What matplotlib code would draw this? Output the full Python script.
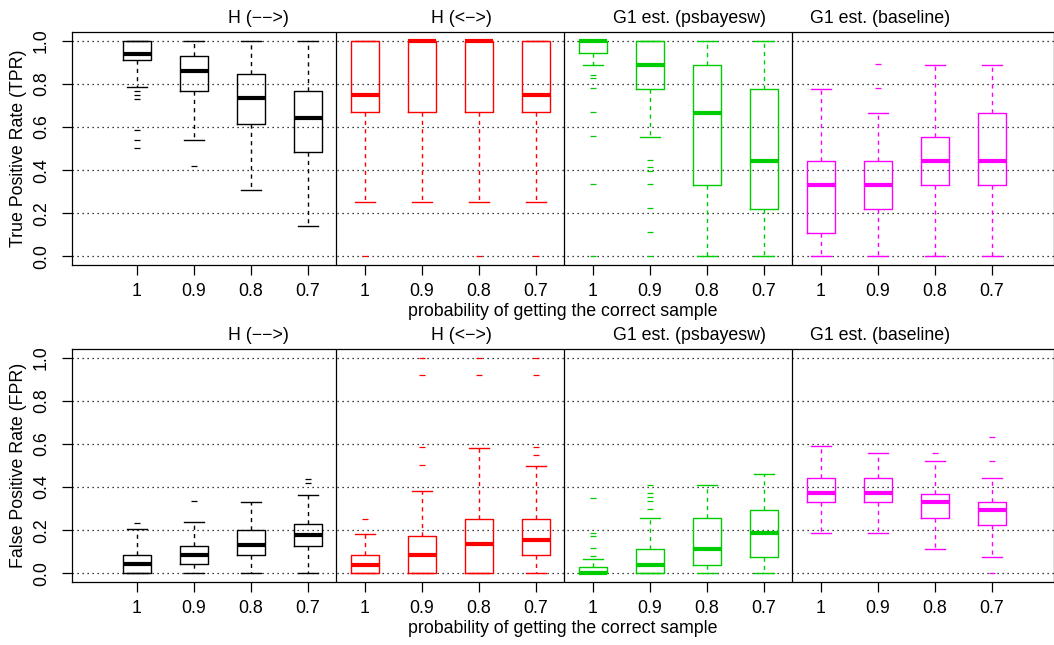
import matplotlib
matplotlib.use("Agg")
import matplotlib.pyplot as plt

plt.rcParams['font.family'] = ['Liberation Sans', 'DejaVu Sans']

methods = ["H (\u2212\u2212>)", "H (<\u2212>)", "G1 est. (psbayesw)", "G1 est. (baseline)"]
colors = ["black", "#FF0000", "#00CD00", "#FF00FF"]
probs = ["1", "0.9", "0.8", "0.7"]

FS = 12.8

# true positive rate, one entry per box (4 methods x 4 probabilities)
tpr_lo = [0.786, 0.539, 0.306, 0.142,
          0.251, 0.251, 0.251, 0.251,
          0.890, 0.556, 0.0, 0.0,
          0.0, 0.0, 0.0, 0.0]
tpr_q1 = [0.909, 0.769, 0.616, 0.483,
          0.669, 0.669, 0.669, 0.669,
          0.944, 0.779, 0.333, 0.221,
          0.111, 0.221, 0.333, 0.333]
tpr_med = [0.937, 0.862, 0.734, 0.644,
           0.751, 1.0, 1.0, 0.751,
           1.0, 0.890, 0.666, 0.444,
           0.333, 0.333, 0.444, 0.444]
tpr_q3 = [1.0, 0.929, 0.848, 0.769,
          1.0, 1.0, 1.0, 1.0,
          1.0, 1.0, 0.890, 0.779,
          0.444, 0.444, 0.556, 0.667]
tpr_hi = [1.0, 1.0, 1.0, 1.0,
          1.0, 1.0, 1.0, 1.0,
          1.0, 1.0, 1.0, 1.0,
          0.779, 0.667, 0.890, 0.890]
tpr_out = [[0.766, 0.751, 0.732, 0.588, 0.542, 0.505], [0.421], [], [],
           [0.0], [], [0.0], [0.0],
           [0.841, 0.830, 0.780, 0.672, 0.559, 0.337, 0.0],
           [0.449, 0.415, 0.396, 0.337, 0.226, 0.115, 0.0], [], [],
           [], [0.782, 0.895], [], []]

# false positive rate
fpr_lo = [0.0, 0.0, 0.0, 0.0,
          0.0, 0.0, 0.0, 0.0,
          0.0, 0.0, 0.0, 0.0,
          0.185, 0.185, 0.111, 0.076]
fpr_q1 = [0.0, 0.045, 0.086, 0.125,
          0.0, 0.0, 0.0, 0.083,
          0.0, 0.0, 0.037, 0.076,
          0.333, 0.333, 0.258, 0.222]
fpr_med = [0.045, 0.086, 0.131, 0.176,
           0.040, 0.085, 0.134, 0.156,
           0.0, 0.039, 0.113, 0.187,
           0.372, 0.372, 0.333, 0.296]
fpr_q3 = [0.086, 0.128, 0.202, 0.227,
          0.085, 0.173, 0.25, 0.25,
          0.028, 0.111, 0.259, 0.296,
          0.444, 0.444, 0.370, 0.333]
fpr_hi = [0.208, 0.239, 0.333, 0.364,
          0.182, 0.384, 0.583, 0.5,
          0.068, 0.259, 0.409, 0.461,
          0.593, 0.556, 0.519, 0.444]
fpr_out = [[0.233], [0.335], [], [0.437, 0.418],
           [0.253], [0.503, 0.586, 0.920, 1.0], [0.920, 1.0], [0.549, 0.586, 0.920, 1.0],
           [0.080, 0.116, 0.171, 0.188, 0.350], [0.299, 0.335, 0.353, 0.375, 0.410], [], [],
           [], [], [0.559], [0.522, 0.633, 0.003]]


def draw_panel(ax, lo, q1, med, q3, hi, out, ylabel):
    positions = list(range(1, 17))
    for g in range(4):
        stats = []
        for i in range(g * 4, g * 4 + 4):
            stats.append(dict(whislo=lo[i], q1=q1[i], med=med[i], q3=q3[i],
                              whishi=hi[i], fliers=out[i]))
        c = colors[g]
        ax.bxp(stats, positions=positions[g * 4:g * 4 + 4], widths=0.5,
               showfliers=True, manage_ticks=False,
               boxprops=dict(color=c, linewidth=1.0),
               medianprops=dict(color=c, linewidth=3.0, solid_capstyle='butt'),
               whiskerprops=dict(color=c, linewidth=1.0, linestyle=(0, (3, 3))),
               capprops=dict(color=c, linewidth=1.0),
               capwidths=0.35,
               flierprops=dict(marker='_', markeredgecolor=c, markersize=4,
                               markeredgewidth=0.9, linestyle='none'))

    # dotted reference lines and group separators
    for y in [0, 0.2, 0.4, 0.6, 0.8, 1.0]:
        ax.axhline(y, color='black', linestyle=(0, (1, 3)), linewidth=0.9, zorder=0)
    for x in [4.5, 8.5, 12.5]:
        ax.axvline(x, color='black', linewidth=0.9)

    ax.set_xlim(-0.14, 17.09)
    ax.set_ylim(-0.04, 1.04)
    ax.set_xticks(positions)
    ax.set_xticklabels(probs * 4, fontsize=FS)
    ax.set_yticks([0, 0.2, 0.4, 0.6, 0.8, 1.0])
    ax.set_yticklabels(["0.0", "0.2", "0.4", "0.6", "0.8", "1.0"], fontsize=FS,
                       rotation=90, va='center')
    ax.tick_params(axis='both', length=7, width=0.9)
    ax.tick_params(axis='x', pad=6)
    ax.tick_params(axis='y', pad=9)
    for s in ax.spines.values():
        s.set_linewidth(0.9)
    ax.set_ylabel(ylabel, fontsize=FS, labelpad=4)
    ax.set_xlabel("probability of getting the correct sample", fontsize=FS, labelpad=2)
    for name, xt in zip(methods, [3.14, 6.70, 10.70, 14.04]):
        ax.text(xt, 1.06, name, fontsize=FS, ha='center', va='center',
                transform=ax.get_xaxis_transform())


fig = plt.figure(figsize=(10.54, 6.45), dpi=100)
ax1 = fig.add_axes([0.0683, 0.589, 0.9317, 0.361])
ax2 = fig.add_axes([0.0683, 0.0977, 0.9317, 0.361])
draw_panel(ax1, tpr_lo, tpr_q1, tpr_med, tpr_q3, tpr_hi, tpr_out, "True Positive Rate (TPR)")
draw_panel(ax2, fpr_lo, fpr_q1, fpr_med, fpr_q3, fpr_hi, fpr_out, "False Positive Rate (FPR)")

fig.savefig("out.png", dpi=100)
